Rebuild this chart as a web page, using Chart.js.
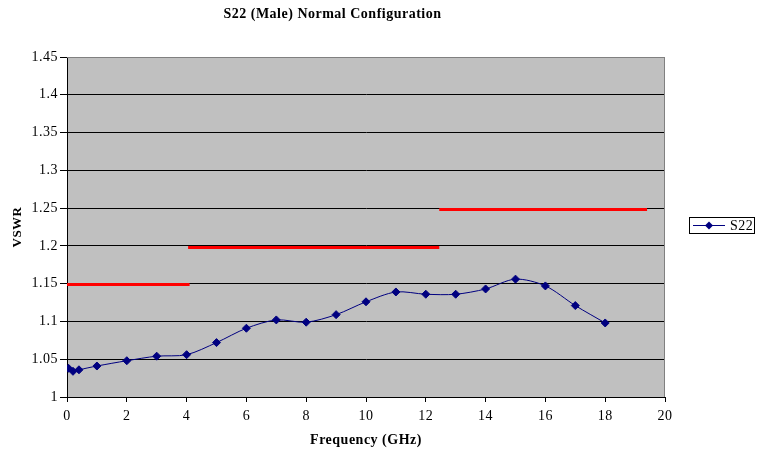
<!DOCTYPE html>
<html lang="en">
<head>
    <meta charset="UTF-8">
    <script src="https://cdn.jsdelivr.net/npm/chart.js"></script>
    <style>
        body { margin: 0; background: #fff; }
    </style>
</head>
<body>
<canvas id="chart" width="762" height="453"></canvas>
<script>
    // S22 measured points (GHz, VSWR)
    const freq = [0.05, 0.2, 0.4, 1, 2, 3, 4, 5, 6, 7, 8, 9, 10, 11, 12, 13, 14, 15, 16, 17, 18];
    const vswr = [1.038, 1.034, 1.036, 1.041, 1.048, 1.054, 1.056, 1.072, 1.091, 1.102, 1.099, 1.109, 1.126, 1.139, 1.136, 1.136, 1.143, 1.156, 1.147, 1.121, 1.098];

    // spec limit segments (red)
    const limit1X = [0, 4.1];
    const limit1Y = [1.149, 1.149];
    const limit2X = [4.05, 12.45];
    const limit2Y = [1.198, 1.198];
    const limit3X = [12.45, 19.4];
    const limit3Y = [1.248, 1.248];

    const serif = '"Liberation Serif", "Times New Roman", serif';

    function toPoints(xs, ys) {
        return xs.map((x, i) => ({ x: x, y: ys[i] }));
    }

    function limitSet(xs, ys) {
        return {
            label: 'limit',
            data: toPoints(xs, ys),
            borderColor: '#ff0000',
            borderWidth: 3,
            pointRadius: 0,
            tension: 0,
        };
    }

    // the old excel export has slightly loose text
    const spacing = {
        id: 'spacing',
        beforeUpdate(chart) { chart.ctx.letterSpacing = '0.5px'; },
        beforeDraw(chart) { chart.ctx.letterSpacing = '0.5px'; }
    };

    // grey plot area + grey top/right frame
    const plotArea = {
        id: 'plotArea',
        beforeDraw(chart) {
            const a = chart.chartArea;
            const c = chart.ctx;
            c.save();
            c.fillStyle = '#c0c0c0';
            c.fillRect(a.left, a.top, a.right - a.left, a.bottom - a.top);
            c.restore();
        },
        beforeDatasetsDraw(chart) {
            const a = chart.chartArea;
            const c = chart.ctx;
            c.save();
            c.strokeStyle = '#808080';
            c.lineWidth = 1;
            c.beginPath();
            c.moveTo(a.left, a.top + 0.5);
            c.lineTo(a.right - 0.5, a.top + 0.5);
            c.lineTo(a.right - 0.5, a.bottom);
            c.stroke();
            c.restore();
        }
    };

    // legend box on the right, only for the S22 series
    const boxLegend = {
        id: 'boxLegend',
        afterDraw(chart) {
            const c = chart.ctx;
            const ds = chart.data.datasets[0];
            const x = 689, y = 217, w = 65, h = 16;
            c.save();
            c.fillStyle = '#fff';
            c.fillRect(x, y, w, h);
            c.strokeStyle = '#000';
            c.lineWidth = 1;
            c.strokeRect(x + 0.5, y + 0.5, w, h);
            const cy = y + h / 2 + 0.5;
            c.strokeStyle = ds.borderColor;
            c.beginPath();
            c.moveTo(x + 4, cy);
            c.lineTo(x + 36, cy);
            c.stroke();
            c.fillStyle = ds.pointBackgroundColor;
            c.beginPath();
            c.moveTo(x + 16, cy);
            c.lineTo(x + 20, cy - 4);
            c.lineTo(x + 24, cy);
            c.lineTo(x + 20, cy + 4);
            c.closePath();
            c.fill();
            c.fillStyle = '#000';
            c.font = '14px ' + serif;
            c.textBaseline = 'middle';
            c.fillText(ds.label, x + 41, cy + 0.5);
            c.restore();
        }
    };

    const ctx = document.getElementById('chart').getContext('2d');
    new Chart(ctx, {
        type: 'line',
        data: {
            datasets: [
                {
                    label: 'S22',
                    data: toPoints(freq, vswr),
                    borderColor: '#000080',
                    borderWidth: 1,
                    pointStyle: 'rectRot',
                    pointRadius: 4,
                    pointBorderWidth: 1,
                    pointBackgroundColor: '#000080',
                    pointBorderColor: '#000080',
                    tension: 0.3,
                },
                limitSet(limit1X, limit1Y),
                limitSet(limit2X, limit2Y),
                limitSet(limit3X, limit3Y),
            ]
        },
        options: {
            responsive: false,
            animation: false,
            layout: { padding: { left: 0, right: 97, top: 0, bottom: 0 } },
            plugins: {
                legend: { display: false },
                tooltip: { enabled: false },
                title: {
                    display: true,
                    text: 'S22 (Male) Normal Configuration',
                    color: '#000',
                    font: { family: serif, size: 14, weight: 'bold' },
                    padding: { top: 6, bottom: 34.2 },
                },
            },
            scales: {
                x: {
                    type: 'linear',
                    min: 0,
                    max: 20,
                    afterFit: s => { s.height = 56; },
                    ticks: {
                        stepSize: 2,
                        color: '#000',
                        padding: 6,
                        font: { family: serif, size: 14 },
                    },
                    grid: {
                        drawOnChartArea: false,
                        drawTicks: true,
                        tickLength: 5,
                        color: '#000',
                    },
                    border: { color: '#000' },
                    title: {
                        display: true,
                        text: 'Frequency (GHz)',
                        color: '#000',
                        font: { family: serif, size: 14, weight: 'bold' },
                        padding: { top: 0, bottom: 4 },
                    },
                },
                y: {
                    min: 1,
                    max: 1.45,
                    afterFit: s => { s.width = 67; },
                    ticks: {
                        stepSize: 0.05,
                        color: '#000',
                        padding: 2,
                        font: { family: serif, size: 14 },
                        callback: v => String(+v.toFixed(2)),
                    },
                    grid: {
                        color: c => Math.abs(c.tick.value - 1.45) < 1e-6 ? '#808080' : '#000',
                        tickColor: '#000',
                        tickLength: 7,
                    },
                    border: { color: '#000' },
                    title: {
                        display: true,
                        text: 'VSWR',
                        color: '#000',
                        font: { family: serif, size: 13, weight: 'bold' },
                        padding: { top: 10, bottom: 0 },
                    },
                },
            },
        },
        plugins: [spacing, plotArea, boxLegend],
    });
</script>
</body>
</html>
